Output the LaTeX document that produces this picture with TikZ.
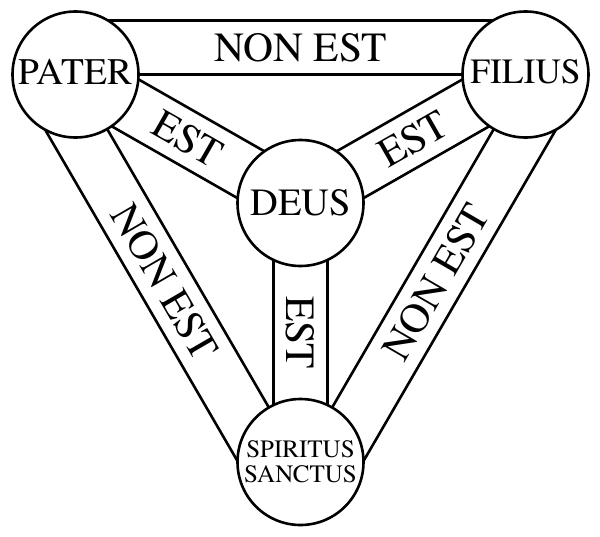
\documentclass[tikz,border=0pt]{standalone}
\usepackage{fontspec}
\setmainfont{texgyretermes}[Extension=.otf, UprightFont=*-regular]
\usetikzlibrary{calc}
\tikzset{
  band/.style={line width=2.6pt},
  orb/.style={circle, draw, fill=white, line width=2.6pt, minimum size=126pt, inner sep=0pt},
  lab/.style={font=\rmfamily\fontsize{41.5}{41.5}\selectfont, inner sep=0pt},
}
\begin{document}
\begin{tikzpicture}[x=1pt,y=-1pt]
\useasboundingbox (0,0) rectangle (600,536);
\coordinate (p) at (75.5,74.5);
\coordinate (f) at (525.5,74.5);
\coordinate (d) at (300.5,203);
\coordinate (s) at (300.5,462);
% outer bands
\draw[band] (p) -- (f);
\draw[band] ($(p)!54pt!90:(f)$) -- ($(f)!54pt!-90:(p)$);
\draw[band] (p) -- (s);
\draw[band] ($(p)!54pt!-90:(s)$) -- ($(s)!54pt!90:(p)$);
\draw[band] (f) -- (s);
\draw[band] ($(f)!54pt!90:(s)$) -- ($(s)!54pt!-90:(f)$);
% inner bands
\draw[band] ($(p)!27pt!90:(d)$) -- ($(d)!27pt!-90:(p)$);
\draw[band] ($(p)!27pt!-90:(d)$) -- ($(d)!27pt!90:(p)$);
\draw[band] ($(f)!27pt!90:(d)$) -- ($(d)!27pt!-90:(f)$);
\draw[band] ($(f)!27pt!-90:(d)$) -- ($(d)!27pt!90:(f)$);
\draw[band] ($(d)!27pt!90:(s)$) -- ($(s)!27pt!-90:(d)$);
\draw[band] ($(d)!27pt!-90:(s)$) -- ($(s)!27pt!90:(d)$);
% band labels
\path ($(p)!27pt!90:(f)$) -- node[lab, sloped] (l1) {NON EST} ($(f)!27pt!-90:(p)$);
\path ($(p)!27pt!-90:(s)$) -- node[lab, sloped] (l2) {NON EST} ($(s)!27pt!90:(p)$);
\path ($(f)!27pt!90:(s)$) -- node[lab, sloped] (l3) {NON EST} ($(s)!27pt!-90:(f)$);
\path (p) -- node[lab, sloped] (l4) {EST} (d);
\path (d) -- node[lab, sloped] (l5) {EST} (f);
\path (d) -- node[lab, rotate=-90] (l6) {EST} (s);
% circles
\node[orb, font=\rmfamily\fontsize{37.5}{37.5}\selectfont, text depth=6pt] (P) at (p) {PATER};
\node[orb, font=\rmfamily\fontsize{35.5}{35.5}\selectfont, text depth=7pt] (F) at (f) {FILIUS};
\node[orb, font=\rmfamily\fontsize{38.5}{38.5}\selectfont] (D) at (d) {DEUS};
\node[orb, font=\rmfamily\fontsize{25}{25}\selectfont, align=center] (S) at (s) {SPIRITUS\\SANCTUS};
\end{tikzpicture}
\end{document}
